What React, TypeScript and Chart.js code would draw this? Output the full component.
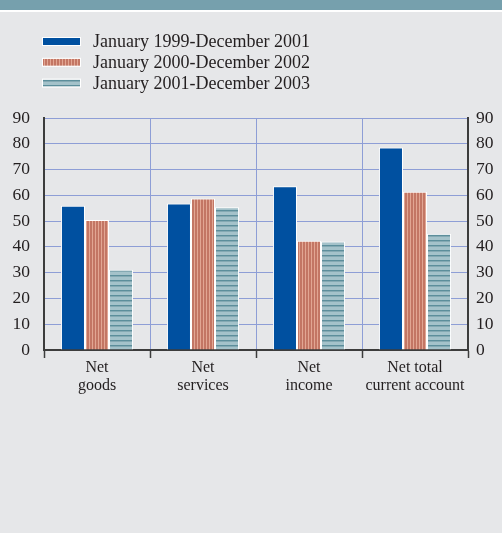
import React, { useEffect, useRef } from 'react';
import { Chart, registerables } from 'chart.js';

Chart.register(...registerables);

const categories = [['Net', 'goods'], ['Net', 'services'], ['Net', 'income'], ['Net total', 'current account']];
const seriesLabels = ['January 1999-December 2001', 'January 2000-December 2002', 'January 2001-December 2003'];
const series1999 = [56.0, 56.8, 63.5, 78.6];
const series2000 = [50.4, 58.8, 42.4, 61.4];
const series2001 = [31.1, 55.4, 42.1, 45.1];
const yMin = 0;
const yMax = 90;
const yStep = 10;

const FONT = "'Liberation Serif', 'Times New Roman', serif";
const TEXT = '#231f20';
const GRID = '#8e9ed6';
const AXIS = '#3c3c3c';

function makeStripes(vertical: boolean): CanvasPattern | string {
  const c = document.createElement('canvas');
  if (vertical) {
    c.width = 3; c.height = 1;
    const g = c.getContext('2d')!;
    g.fillStyle = '#c37664'; g.fillRect(0, 0, 2, 1);
    g.fillStyle = '#e2a693'; g.fillRect(2, 0, 1, 1);
    return g.createPattern(c, 'repeat') || '#cf8a78';
  }
  c.width = 1; c.height = 5;
  const g = c.getContext('2d')!;
  g.fillStyle = '#a4c2ca'; g.fillRect(0, 0, 1, 5);
  g.fillStyle = '#5c8e9b'; g.fillRect(0, 0, 1, 1);
  g.fillStyle = '#84a9b3'; g.fillRect(0, 1, 1, 1);
  return g.createPattern(c, 'repeat') || '#8fb0b9';
}

const bgPlugin = {
  id: 'bgPlugin',
  beforeDraw(chart: any) {
    const ctx = chart.ctx;
    ctx.save();
    ctx.fillStyle = '#e6e7e9';
    ctx.fillRect(0, 0, chart.width, chart.height);
    ctx.fillStyle = '#76a0ad';
    ctx.fillRect(0, 0, chart.width, 10);
    ctx.fillStyle = '#ffffff';
    ctx.fillRect(0, 10, chart.width, 2);
    ctx.restore();
  },
};

const legendPlugin = {
  id: 'legendPlugin',
  afterDraw(chart: any) {
    const ctx = chart.ctx;
    ctx.save();
    chart.data.datasets.forEach((ds: any, i: number) => {
      const cy = 41.5 + i * 20.8;
      ctx.fillStyle = ds.backgroundColor;
      ctx.fillRect(43, cy - 3.5, 37, 7);
      ctx.strokeStyle = '#ffffff';
      ctx.lineWidth = 1;
      ctx.strokeRect(42.5, cy - 4, 38, 8);
      ctx.fillStyle = TEXT;
      ctx.font = `18px ${FONT}`;
      ctx.textBaseline = 'middle';
      ctx.textAlign = 'left';
      ctx.fillText(ds.label, 93, cy + 1);
    });
    ctx.restore();
  },
};

export default function App() {
  const ref = useRef<HTMLCanvasElement>(null);

  useEffect(() => {
    if (!ref.current) return;
    const red = makeStripes(true);
    const teal = makeStripes(false);
    const chart = new Chart(ref.current, {
      type: 'bar',
      data: {
        labels: categories,
        datasets: [
          { label: seriesLabels[0], data: series1999, backgroundColor: '#0050a0', borderColor: '#ffffff', borderWidth: 1 },
          { label: seriesLabels[1], data: series2000, backgroundColor: red as any, borderColor: '#ffffff', borderWidth: 1 },
          { label: seriesLabels[2], data: series2001, backgroundColor: teal as any, borderColor: '#ffffff', borderWidth: 1 },
        ],
      },
      options: {
        responsive: false,
        animation: false,
        devicePixelRatio: 1,
        layout: { padding: { top: 118, left: 0, right: 0, bottom: 0 } },
        datasets: { bar: { categoryPercentage: 0.68, barPercentage: 1.0 } },
        plugins: {
          legend: { display: false },
          tooltip: { enabled: false },
        },
        scales: {
          x: {
            offset: true,
            grid: {
              offset: true,
              color: (c: any) => (c.index === 0 || c.index === categories.length ? 'rgba(0,0,0,0)' : GRID),
              lineWidth: 1,
              tickColor: AXIS,
              tickWidth: 1.5,
              tickLength: 8,
            },
            border: { display: true, color: AXIS, width: 2 },
            ticks: {
              color: TEXT,
              font: { family: FONT, size: 16, lineHeight: 1.12 },
              padding: 1,
              maxRotation: 0,
              autoSkip: false,
            },
            afterFit: (s: any) => { s.height = 183; },
          },
          y: {
            position: 'left',
            min: yMin,
            max: yMax,
            grid: {
              color: (c: any) => (c.tick && c.tick.value === 0 ? 'rgba(0,0,0,0)' : GRID),
              lineWidth: 1,
              drawTicks: false,
            },
            border: { display: true, color: AXIS, width: 2 },
            ticks: {
              stepSize: yStep,
              color: TEXT,
              font: { family: FONT, size: 17.5 },
              padding: 14,
            },
            afterFit: (s: any) => { s.width = 44; },
          },
          y2: {
            position: 'right',
            min: yMin,
            max: yMax,
            grid: { drawOnChartArea: false, drawTicks: false },
            border: { display: true, color: AXIS, width: 2 },
            ticks: {
              stepSize: yStep,
              color: TEXT,
              font: { family: FONT, size: 17.5 },
              padding: 8,
            },
            afterFit: (s: any) => { s.width = 34; },
          },
        },
      },
      plugins: [bgPlugin, legendPlugin],
    });
    return () => chart.destroy();
  }, []);

  return (
    <div style={{ position: 'absolute', left: 0, top: 0, width: 502, height: 533, background: '#e6e7e9' }}>
      <canvas ref={ref} width={502} height={533} style={{ width: 502, height: 533, display: 'block' }} />
    </div>
  );
}
